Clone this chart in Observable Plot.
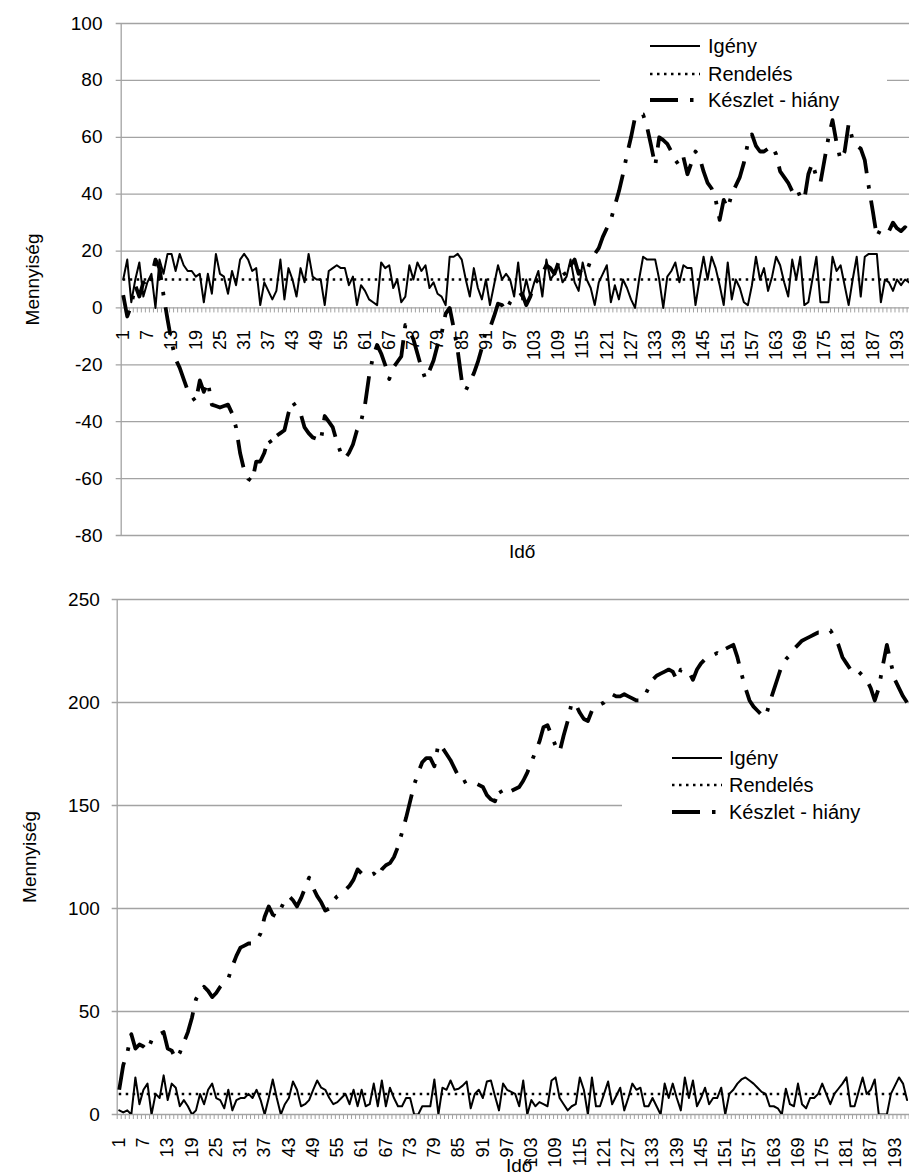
<!DOCTYPE html>
<html>
<head>
<meta charset="utf-8">
<script src="https://cdn.jsdelivr.net/npm/d3@7"></script>
<script src="https://cdn.jsdelivr.net/npm/@observablehq/plot@0.6"></script>
<style>
  html, body { margin: 0; padding: 0; background: #fff; overflow: hidden; }
  #wrap { position: relative; width: 909px; height: 1174px; font-family: Arial, "Liberation Sans", sans-serif; }
  #wrap svg { display: block; }
  .legend { position: absolute; background: #fff; }
</style>
</head>
<body>
<div id="wrap">
  <div id="top"></div>
  <div id="bottom"></div>
</div>
<script>
// ---------- DATA ----------
// Upper chart
const igenyTop = [
  10,17,2,10,16,4,9,12,0,17,
  12,19,19,13,19,15,13,13,11,12,
  2,12,5,19,12,11,5,13,8,17,
  19,17,13,14,1,9,6,3,6,17,
  3,14,10,4,14,9,19,11,10,10,
  1,13,14,15,14,14,8,11,1,8,
  6,3,2,1,16,14,15,7,10,2,
  4,15,10,16,13,15,7,9,5,4,
  1,18,18,19,17,10,4,14,7,3,
  10,1,8,15,10,12,10,4,16,3,
  10,4,9,13,4,17,10,12,15,9,
  11,17,9,6,16,10,7,1,9,12,
  15,2,8,3,10,7,3,0,10,18,
  17,17,17,10,0,11,13,16,9,15,
  14,14,1,10,18,10,18,14,8,1,
  16,3,10,7,2,1,8,18,10,14,
  6,11,18,15,9,4,17,10,18,1,
  2,10,18,2,2,2,18,13,15,8,
  1,10,18,4,18,19,19,19,2,10,
  9,6,10,8,10,9
];
const keszletTop = [
  4.5,-3,1,8,4,9,7,11,17,14,
  4.5,-4,-12,-18,-21,-25,-29,-31,-33,-25.5,
  -29.5,-26,-34,-34.5,-35,-34.5,-34,-37,-42,-51,
  -57,-60,-61,-54,-54,-51,-46,-48,-45,-44,
  -43,-37,-33,-35,-37,-42,-44,-45.5,-46,-47,
  -38,-40,-42,-47,-51,-53,-51,-48,-43,-40,
  -34,-24,-17,-13,-16,-20,-25,-21,-19,-17,
  -6,-8,-11,-16,-21,-25,-22,-18.5,-13,-9,
  -2,0,-7,-15,-25.5,-29,-26,-23,-19,-14,
  -8,-7,-3,1.5,1,-1,2,4,4,5,
  1,4,8.5,10,12,15,14,12,16,13,
  11,15,17,12,14,13,16.7,19,21,25,
  28,31,36,41,47,54,60,67,68,68,
  63.5,57,50,60,59,57.7,55,52,50,53,
  47,51,55,53,48,44,42,38,31,38,
  35,40,43,46,51,58,61,57,55,55,
  56,57,54,48,46,44,41,42.5,39,38,
  47,51,46,44,52,60,66,58,52,55,
  64.7,59,57,56,52,42.5,34,25,28,27.5,
  27,30,28,27,28.4,27
];
const rendelesTop = 10;

// Lower chart
const igenyBottom = [
  2,1,2,0,18,5,12,15,0,10,
  8,19,7,15,13,4,7,4,0,2,
  10,5,12,15,8,7,3,12,2,7,
  8,8,10,8,12,7,0,8,17,8,
  0,5,8,16,12,4,5,7,12,16.5,
  13,12,8,5,6,8,10,5,12,4,
  12,4,5,15,4,16.5,4,13,8,4,
  4,8,8,0,0,4,4,4,17,0,
  13,12,16.5,12,12.5,14,16,3,10,12,
  8,16,16.5,9,2,15,12,11,10,4,
  16.5,0,7,4,6,5,4,16.5,18,8,
  5,2,4,5,18,12,0,18,4,4,
  10,16,5,9,13,2,8,15,12,13,
  4,4,8,4,0,15,8,15,8,2,
  18,8,16.5,4,8,13,5,8,8,13,
  0,10,12,15,17,18,16.5,15,13,11,
  10,4,4,3,0,12.5,5,4,15,5,
  3,8,8,10,15,10,5,10,12.5,15,
  18,4,4,11,18,10,12,17,0,0,
  0,10,14,18,15,7
];
const keszletBottom = [
  12,24,30,39,32,34,33,31,36,37,
  39,40,32,31,27,30,35,40,47,56,
  59,62,60,57,59,62,64,66,72,77,
  81,82,83,83,84,88,96,101,97,96,
  100,104,106,104,101,105,110,115,110,106,
  103,99,100,104,106,107,109,111,114,119,
  117,116,116,117,115,119,121,122,125,130,
  137,144,152,160,166,171,173,173,169,180,
  178,175,172,168,164,161,162,162,161,160,
  159,155,153,152,158,155,156,157,158,159,
  162,166,171,176,181,188,189,184,179,176,
  184,191,200,199,195,192,191,196,198,199,
  200,202,204,203,203,204,203,202,201,201,
  203,207,211,213,214,215,216,215,211,216,
  216,215,211,216,219,221,222,223,224,223,
  226,227,228,222,214,207,201,198,196,194,
  193,200,206,212,218,221,223,226,228,230,
  231,232,233,234,234,235,235,232,228,222,
  219,216,217,215,213,211,207,201,207,218,
  228,219,211,207,203,200
];
const rendelesBottom = 10;

// Tick labels
const xTickLabels = [1,7,13,19,25,31,37,43,49,55,61,67,73,79,85,91,97,103,109,115,121,127,133,139,145,151,157,163,169,175,181,187,193];
const yTicksTop = [-80,-60,-40,-20,0,20,40,60,80,100];
const yTicksBottom = [0,50,100,150,200,250];

const seriesNames = ["Igény", "Rendelés", "Készlet - hiány"];
const yTitle = "Mennyiség";
const xTitle = "Idő";

// ---------- STYLE ----------
const GRID = "#a3a3a3";
const FONT = 'Arial, "Liberation Sans", sans-serif';
const DEMAND_STYLE = {stroke: "#000", strokeWidth: 2};
const ORDER_STYLE = {stroke: "#000", strokeWidth: 2.5, strokeDasharray: "2.5,4.5"};
const STOCK_STYLE = {stroke: "#000", strokeWidth: 3.8, strokeDasharray: "28,12,3.5,12", strokeLinecap: "butt"};

function panel(o) {
  const T = o.demand.map((_, i) => i + 1);
  const demand = T.map((t, i) => ({t, v: o.demand[i]}));
  const stock = T.map((t, i) => ({t, v: o.stock[i]}));
  const bounds = d3.range(0, T.length + 1).map(k => k + 0.5);
  return Plot.plot({
    width: 909,
    height: o.height,
    marginTop: o.marginTop,
    marginBottom: o.marginBottom,
    marginLeft: o.marginLeft,
    marginRight: 0,
    x: {domain: [0.5, o.xMax], axis: null},
    y: {domain: o.yDomain, axis: null},
    style: {fontFamily: FONT, color: "#000", background: "#fff", overflow: "visible"},
    marks: [
      Plot.ruleY(o.yTicks, {stroke: GRID, strokeWidth: 1.3, insetLeft: -5}),
      Plot.ruleX([0.5], {stroke: GRID, strokeWidth: 1.3}),
      Plot.ruleX(bounds, {x: d => d, y1: 0, y2: 0, insetBottom: -5, stroke: GRID, strokeWidth: 1}),
      Plot.text(o.yTicks, {y: d => d, text: d => String(d), frameAnchor: "left", dx: o.yLabelDx, textAnchor: "end", lineAnchor: "middle", fontSize: 19, fill: "#000"}),
      Plot.text(xTickLabels, {x: d => d, y: 0, text: d => String(d), rotate: -90, textAnchor: "end", lineAnchor: "middle", dy: o.xLabelDy, fontSize: 18, fill: "#000"}),
      Plot.text([yTitle], {text: d => d, frameAnchor: "left", dx: o.titleDx, rotate: -90, textAnchor: "middle", lineAnchor: "middle", fontSize: 19, fill: "#000"}),
      Plot.text([xTitle], {text: d => d, x: 100, frameAnchor: "bottom", dy: o.idoDy, textAnchor: "middle", lineAnchor: "middle", fontSize: 19, fill: "#000"}),
      Plot.ruleY([o.order], {x1: T[0], x2: T[T.length - 1], ...ORDER_STYLE}),
      Plot.line(demand, {x: "t", y: "v", ...DEMAND_STYLE, clip: true}),
      Plot.line(stock, {x: "t", y: "v", ...STOCK_STYLE, clip: true})
    ]
  });
}

document.getElementById("top").append(panel({
  demand: igenyTop, stock: keszletTop, order: rendelesTop,
  yDomain: [-80, 100], yTicks: yTicksTop,
  height: 560, marginTop: 23, marginBottom: 25, marginLeft: 120.7, xMax: 196.1,
  yLabelDx: -18.7, xLabelDy: 22, titleDx: -88, idoDy: 16.5
}));
document.getElementById("bottom").append(panel({
  demand: igenyBottom, stock: keszletBottom, order: rendelesBottom,
  yDomain: [0, 250], yTicks: yTicksBottom,
  height: 614, marginTop: 39, marginBottom: 60, marginLeft: 116.7, xMax: 196.6,
  yLabelDx: -17.4, xLabelDy: 23, titleDx: -87, idoDy: 51.5
}));

// ---------- LEGENDS ----------
function legend(left, top, w, h, rows, sampleX0, textX) {
  const div = document.createElement("div");
  div.className = "legend";
  Object.assign(div.style, {left: left + "px", top: top + "px", width: w + "px", height: h + "px"});
  const svg = d3.create("svg").attr("width", w).attr("height", h).style("font-family", FONT);
  const styles = [DEMAND_STYLE, ORDER_STYLE, STOCK_STYLE];
  seriesNames.forEach((name, i) => {
    const s = styles[i];
    svg.append("line")
      .attr("x1", sampleX0).attr("x2", sampleX0 + 50)
      .attr("y1", rows[i]).attr("y2", rows[i])
      .attr("stroke", s.stroke).attr("stroke-width", s.strokeWidth)
      .attr("stroke-dasharray", s.strokeDasharray || null)
      .attr("stroke-linecap", "butt");
    svg.append("text")
      .attr("x", textX).attr("y", rows[i]).attr("dy", "0.35em")
      .attr("font-size", 20).attr("fill", "#000")
      .text(name);
  });
  div.append(svg.node());
  document.getElementById("wrap").append(div);
}
legend(600, 30, 287, 82, [16, 44, 70], 50, 108);
legend(622, 738, 287, 92, [20, 47, 74], 50, 107);
</script>
</body>
</html>
